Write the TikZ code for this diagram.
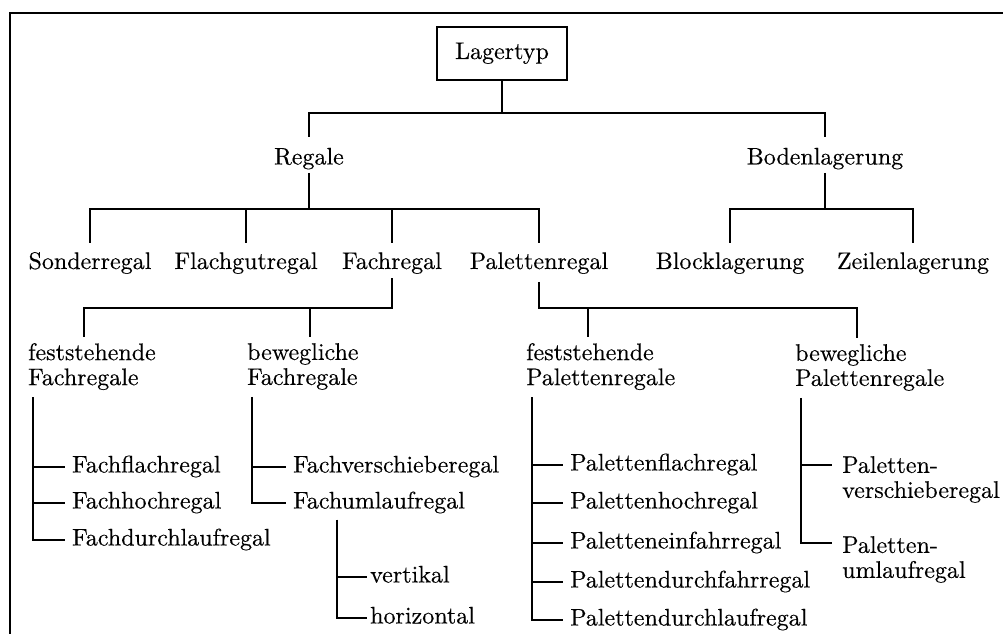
\documentclass[tikz,border=0pt]{standalone}
\usepackage{fontspec}
\setmainfont{lmroman10-regular.otf}[FakeBold=0.3]
\usetikzlibrary{calc}

\newcommand{\labelFont}{\fontsize{24}{25}\selectfont}
\newcommand{\tickGap}{7pt}

\tikzset{
	conn/.style={line width=1.1pt},
	lbl/.style={font=\labelFont, inner sep=0pt, text height=16pt, text depth=5pt},
	leaf/.style={lbl, anchor=west},
	twoline/.style={font=\labelFont, inner sep=0pt, align=left, anchor=north west},
	rootbox/.style={lbl, draw, line width=1.1pt, minimum width=130pt, minimum height=53pt}
}

\begin{document}
\begin{tikzpicture}[x=1pt,y=1pt]
	\useasboundingbox (0,0) rectangle (1003,634);
	\draw[line width=1.6pt] (1003,621) -- (10,621) -- (10,0);

	% upper levels
	\node[rootbox] (lager) at (502,580.5) {Lagertyp};
	\node[lbl] (regale) at (309,475) {Regale};
	\node[lbl] (boden) at (825,475) {Bodenlagerung};
	\foreach \n/\x/\t in {sonder/90/Sonderregal, flachgut/246/Flachgutregal, fach/392/Fachregal, palette/539/Palettenregal, block/730/Blocklagerung, zeile/913/Zeilenlagerung}
		\node[lbl] (\n) at (\x,370.5) {\t};

	\draw[conn] (lager.south) -- (lager |- 0,521);
	\draw[conn] (regale |- 0,497) |- (boden |- 0,521) -- (boden |- 0,497);

	\draw[conn] (regale |- 0,461) -- (regale |- 0,425);
	\draw[conn] (sonder |- 0,391) |- (palette |- 0,425) -- (palette |- 0,391);
	\foreach \n in {flachgut, fach}
		\draw[conn] (\n |- 0,425) -- (\n |- 0,391);

	\draw[conn] (boden |- 0,461) -- (boden |- 0,425);
	\draw[conn] (block |- 0,391) |- (zeile |- 0,425) -- (zeile |- 0,391);

	% fixed / movable
	\node[twoline] (ffach) at (28,291) {feststehende\\Fachregale};
	\node[twoline] (bfach) at (247,291) {bewegliche\\Fachregale};
	\node[twoline] (fpal) at (526,291) {feststehende\\Palettenregale};
	\node[twoline] (bpal) at (795,290) {bewegliche\\Palettenregale};

	\coordinate (ffachTop) at ([xshift=56pt,yshift=6pt]ffach.north west);
	\coordinate (bfachTop) at ([xshift=63pt,yshift=6pt]bfach.north west);
	\coordinate (fpalTop) at ([xshift=62pt,yshift=6pt]fpal.north west);
	\coordinate (bpalTop) at ([xshift=62pt,yshift=6pt]bpal.north west);

	\draw[conn] (ffachTop) |- (fach |- 0,326) -- (fach |- 0,356);
	\draw[conn] (bfachTop |- 0,326) -- (bfachTop);
	\draw[conn] (palette |- 0,352) |- (bpalTop |- 0,326) -- (bpalTop);
	\draw[conn] (fpalTop |- 0,326) -- (fpalTop);

	% leaves
	\coordinate (ffachSpine) at ([xshift=5pt,yshift=-7pt]ffach.south west);
	\foreach \n/\y/\t in {fflach/167/Fachflachregal, fhoch/131/Fachhochregal, fdurch/94/Fachdurchlaufregal}
	{
		\node[leaf] (\n) at (72,\y) {\t};
		\draw[conn] (ffachSpine |- \n.west) -- ([xshift=-\tickGap]\n.west);
	}
	\draw[conn] (ffachSpine) |- ([xshift=-\tickGap]fdurch.west);

	\coordinate (bfachSpine) at ([xshift=5pt,yshift=-7pt]bfach.south west);
	\foreach \n/\y/\t in {fverschiebe/167/Fachverschieberegal, fumlauf/131/Fachumlaufregal}
	{
		\node[leaf] (\n) at (293,\y) {\t};
		\draw[conn] (bfachSpine |- \n.west) -- ([xshift=-\tickGap]\n.west);
	}
	\draw[conn] (bfachSpine) |- ([xshift=-\tickGap]fumlauf.west);

	\coordinate (umlaufSpine) at ([xshift=44pt,yshift=-6pt]fumlauf.south west);
	\foreach \n/\y/\t in {vert/57/vertikal, horiz/16/horizontal}
	{
		\node[leaf] (\n) at (370,\y) {\t};
		\draw[conn] (umlaufSpine |- \n.west) -- ([xshift=-3pt]\n.west);
	}
	\draw[conn] (umlaufSpine) |- ([xshift=-3pt]horiz.west);

	\coordinate (fpalSpine) at ([xshift=6pt,yshift=-7pt]fpal.south west);
	\foreach \n/\y/\t in {pflach/169/Palettenflachregal, phoch/131/Palettenhochregal, peinfahr/91/Paletteneinfahrregal, pdurchfahr/52/Palettendurchfahrregal, pdurchlauf/14/Palettendurchlaufregal}
	{
		\node[leaf] (\n) at (570,\y) {\t};
		\draw[conn] (fpalSpine |- \n.west) -- ([xshift=-\tickGap]\n.west);
	}
	\draw[conn] (fpalSpine) |- ([xshift=-\tickGap]pdurchlauf.west);

	\coordinate (bpalSpine) at ([xshift=6pt,yshift=-7pt]bpal.south west);
	\node[twoline] (pverschiebe) at (842,178) {Paletten-\\verschieberegal};
	\node[twoline] (pumlauf) at (842,98) {Paletten-\\umlaufregal};
	\draw[conn] (bpalSpine |- 0,169) -- ([xshift=-10pt,yshift=-9pt]pverschiebe.north west);
	\draw[conn] (bpalSpine) |- ([xshift=-10pt,yshift=-7pt]pumlauf.north west);
\end{tikzpicture}
\end{document}
